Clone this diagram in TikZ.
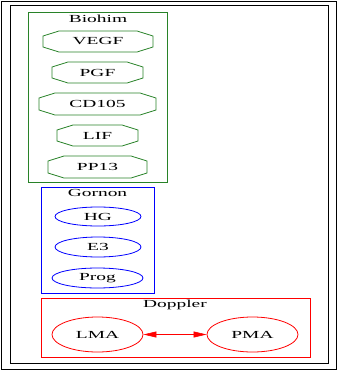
\documentclass[tikz,border=0pt]{standalone}
\usepackage{graphicx}
\usepackage{fontspec}
\setmainfont{Liberation Serif}
\usetikzlibrary{shapes.geometric,arrows.meta}

\definecolor{boxgreen}{RGB}{40,130,40}
\newcommand{\wide}[1]{\scalebox{1.8}[1]{#1}}
% octagon drawn round a named node
\newcommand{\octagon}[1]{%
  \draw[boxgreen, line width=0.8pt]
    ([xshift=16pt]#1.north west) -- ([xshift=-16pt]#1.north east)
    -- ([yshift=-5pt]#1.north east) -- ([yshift=5pt]#1.south east)
    -- ([xshift=-16pt]#1.south east) -- ([xshift=16pt]#1.south west)
    -- ([yshift=5pt]#1.south west) -- ([yshift=-5pt]#1.north west) -- cycle;}

\tikzset{
  label text/.style={font=\fontsize{10.8}{12}\selectfont, inner sep=0pt},
  cluster/.style={draw=#1, line width=0.9pt, rectangle, inner sep=0pt},
  octa/.style={rectangle, inner sep=0pt, outer sep=0pt, label text},
  oval/.style={draw=#1, line width=0.8pt, ellipse, inner sep=0pt, label text}
}

\begin{document}
\begin{tikzpicture}[x=1pt, y=-1pt]
  \useasboundingbox (0,0) rectangle (338,370);

  % frame
  \draw[line width=0.8pt] (1,1) rectangle (336,369);
  \draw[line width=0.8pt] (10,5) rectangle (328,363);

  % Biohim
  \node[cluster=boxgreen, minimum width=139pt, minimum height=170pt] (biohim) at (97.5,97) {};
  \node[label text] (biohimlbl) at (98,19) {\wide{Biohim}};
  \node[octa, minimum width=110pt, minimum height=21pt] (vegf) at (98,41.5) {\wide{VEGF}};
  \node[octa, minimum width=91pt, minimum height=21pt] (pgf) at (97.5,72.5) {\wide{PGF}};
  \node[octa, minimum width=117pt, minimum height=22pt] (cd105) at (97.5,104) {\wide{CD105}};
  \node[octa, minimum width=81pt, minimum height=21pt] (lif) at (97.5,135.5) {\wide{LIF}};
  \node[octa, minimum width=99pt, minimum height=22pt] (pp13) at (97.5,167) {\wide{PP13}};
  \foreach \n in {vegf,pgf,cd105,lif,pp13} {
    \octagon{\n}
  }

  % Gornon
  \node[cluster=blue, minimum width=113pt, minimum height=106pt] (gornon) at (97.5,240) {};
  \node[label text] (gornonlbl) at (97.5,193) {\wide{Gornon}};
  \node[oval=blue, minimum width=86pt, minimum height=19pt] (hg) at (98,216.5) {\wide{HG}};
  \node[oval=blue, minimum width=86pt, minimum height=20pt] (e3) at (98,247) {\wide{E3}};
  \node[oval=blue, minimum width=91pt, minimum height=20pt] (prog) at (97.5,278) {\wide{Prog}};

  % Doppler
  \node[cluster=red, minimum width=269pt, minimum height=59pt] (doppler) at (175.5,327.5) {};
  \node[label text] (dopplerlbl) at (175,305) {\wide{Doppler}};
  \node[oval=red, minimum width=91pt, minimum height=35pt] (lma) at (97.5,334.5) {\wide{LMA}};
  \node[oval=red, minimum width=91pt, minimum height=35pt] (pma) at (252.5,334.5) {\wide{PMA}};
  \draw[red, line width=0.6pt, {Triangle[length=13pt,width=6pt]}-{Triangle[length=13pt,width=6pt]}] (lma) -- (pma);
\end{tikzpicture}
\end{document}
